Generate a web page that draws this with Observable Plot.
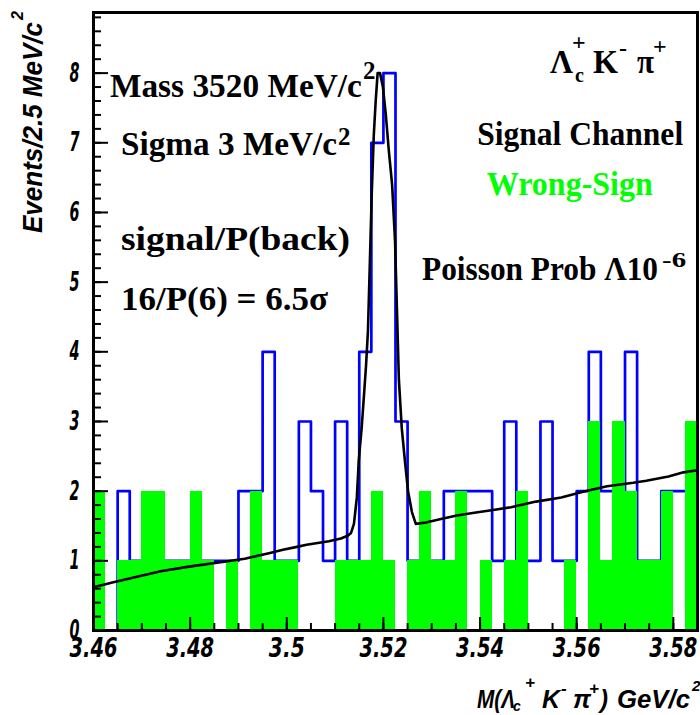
<!DOCTYPE html>
<html>
<head>
<meta charset="utf-8">
<script src="https://cdn.jsdelivr.net/npm/d3@7"></script>
<script src="https://cdn.jsdelivr.net/npm/@observablehq/plot@0.6"></script>
<style>
  body { margin: 0; background: #fff; }
  #chart svg { display: block; }
</style>
</head>
<body>
<div id="chart"></div>
<script>
// Histogram binning: 2.5 MeV/c^2 bins starting at 3.46 GeV/c^2
const binStart = 3.46;
const binWidth = 0.0025;

// Signal channel (Lambda_c+ K- pi+), events per bin
const signalCounts = [0, 0, 2, 1, 1, 1, 1, 1, 1, 1, 1, 1, 2, 2, 4, 1, 1, 3, 2, 1,
                      3, 1, 4, 7, 8, 3, 1, 1, 1, 2, 2, 2, 2, 1, 3, 1, 1, 3, 1, 1,
                      2, 4, 2, 2, 4, 1, 1, 2, 2, 2];

// Wrong-sign combinations, events per bin
const wrongSignCounts = [2, 0, 1, 1, 2, 2, 1, 1, 2, 1, 0, 1, 0, 2, 1, 1, 1, 0, 0, 0,
                         1, 1, 1, 2, 1, 0, 1, 2, 1, 1, 2, 0, 1, 0, 1, 2, 0, 0, 0, 1,
                         0, 3, 1, 3, 2, 1, 1, 2, 0, 3];

// Fitted curve (Gaussian peak on a rising background)
const fitMass = [3.4600, 3.4639, 3.4739, 3.4801, 3.4863, 3.4913, 3.4963, 3.4992, 3.5021, 3.5041,
                 3.5087, 3.5112, 3.5126, 3.5133, 3.5139, 3.5145, 3.5149, 3.5155, 3.5160, 3.5164,
                 3.5168, 3.5172, 3.5176, 3.5180, 3.5184, 3.5188, 3.5193, 3.5199, 3.5205, 3.5211,
                 3.5218, 3.5224, 3.5228, 3.5232, 3.5238, 3.5245, 3.5251, 3.5259, 3.5267, 3.5288,
                 3.5319, 3.5352, 3.5388, 3.5427, 3.5464, 3.5516, 3.5568, 3.5613, 3.5663, 3.5717,
                 3.5744, 3.5790, 3.5821, 3.5850];
const fitEvents = [0.62, 0.69, 0.85, 0.92, 0.98, 1.03, 1.11, 1.16, 1.20, 1.23,
                   1.28, 1.32, 1.36, 1.40, 1.53, 1.91, 2.44, 2.91, 3.40, 3.80,
                   4.3, 5.3, 6.3, 7.1, 7.6, 8.0, 8.0, 7.8, 7.4, 6.9,
                   6.4, 5.6, 4.6, 3.6, 2.9, 2.4, 2.0, 1.7, 1.53, 1.55,
                   1.60, 1.65, 1.69, 1.73, 1.77, 1.85, 1.91, 1.99, 2.07, 2.12,
                   2.15, 2.21, 2.27, 2.30];

// Axis ticks
const xTickValues = [3.46, 3.48, 3.5, 3.52, 3.54, 3.56, 3.58];
const xTickLabels = ["3.46", "3.48", "3.5", "3.52", "3.54", "3.56", "3.58"];
const yTickValues = [0, 1, 2, 3, 4, 5, 6, 7, 8];
const yTickLabels = ["0", "1", "2", "3", "4", "5", "6", "7", "8"];

// Tables for the marks
const wrongSignBins = wrongSignCounts.map((n, i) => ({
  x1: binStart + i * binWidth, x2: binStart + (i + 1) * binWidth, n
}));
const signalSteps = signalCounts.map((n, i) => ({x: binStart + i * binWidth, n}))
  .concat([{x: binStart + signalCounts.length * binWidth, n: signalCounts[signalCounts.length - 1]}]);
const fitCurve = fitMass.map((m, i) => ({m, v: fitEvents[i]}));

const xMinor = d3.range(0, 26).map(i => 3.46 + i * 0.005);
const yMinor = d3.range(0, 45).map(i => i * 0.2);

const heavy = "'DejaVu Sans', sans-serif";
const serif = "'Liberation Serif', 'Times New Roman', serif";
const sans = "'Liberation Sans', Arial, sans-serif";

const tickStyle = {fontFamily: heavy, fontWeight: "bold", fontStyle: "italic", fill: "black"};

const plot = Plot.plot({
  width: 700,
  height: 715,
  marginLeft: 93,
  marginRight: 3,
  marginTop: 12,
  marginBottom: 85,
  x: {domain: [3.46, 3.585]},
  y: {domain: [0, 8.87]},
  style: {background: "white"},
  marks: [
    Plot.lineY(signalSteps, {x: "x", y: "n", curve: "step-after", stroke: "#0000ff", strokeWidth: 2.7}),
    Plot.rectY(wrongSignBins, {x1: "x1", x2: "x2", y: "n", fill: "#00ff00", inset: 0, shapeRendering: "crispEdges"}),
    Plot.line(fitCurve, {x: "m", y: "v", stroke: "black", strokeWidth: 2.6}),
    Plot.axisX({ticks: xMinor, tickSize: -7, text: null, label: null, strokeWidth: 2}),
    Plot.axisX({ticks: xTickValues, tickSize: -13, text: null, label: null, strokeWidth: 2}),
    Plot.axisX({ticks: xTickValues, tickSize: 0, tickPadding: 7, label: null, fontSize: 27,
                tickFormat: d => xTickLabels[xTickValues.indexOf(d)], ...tickStyle}),
    Plot.axisY({ticks: yMinor, tickSize: -8, text: null, label: null, strokeWidth: 2}),
    Plot.axisY({ticks: yTickValues, tickSize: -15, text: null, label: null, strokeWidth: 2}),
    Plot.axisY({ticks: yTickValues, tickSize: 0, tickPadding: 14, label: null, fontSize: 27,
                tickFormat: d => yTickLabels[yTickValues.indexOf(d)], ...tickStyle}),
    Plot.frame({stroke: "black", strokeWidth: 3})
  ]
});

document.getElementById("chart").append(plot);

const svg = d3.select(plot);
const X = plot.scale("x");
const Y = plot.scale("y");

// Condense the heavy tick labels
svg.selectAll('g[aria-label="y-axis tick label"] text')
  .attr("textLength", 10).attr("lengthAdjust", "spacingAndGlyphs");
svg.selectAll('g[aria-label="x-axis tick label"] text')
  .each(function () {
    const s = this.textContent;
    d3.select(this).attr("textLength", s.length === 3 ? 36 : 48).attr("lengthAdjust", "spacingAndGlyphs");
  });

// Text helpers: each part is [text, dx, dy, fontSize, textLength]
function put(parent, px, py, str, o) {
  const t = parent.append("text")
    .attr("x", px).attr("y", py).text(str)
    .attr("text-anchor", "start")
    .attr("font-family", o.family || serif)
    .attr("font-size", o.size)
    .attr("font-weight", o.weight || "bold")
    .attr("font-style", o.style || "normal")
    .attr("fill", o.fill || "black");
  if (o.width) t.attr("textLength", o.width).attr("lengthAdjust", "spacingAndGlyphs");
  return t;
}
function rich(parent, px, py, parts, o = {}) {
  parts.forEach(([s, dx, dy, size, width]) => put(parent, px + dx, py + dy, s, {...o, size, width}));
}

const ann = svg.append("g").attr("aria-label", "annotations").attr("text-anchor", "start");

// Fit results, upper left
rich(ann, X.apply(3.4635), Y.apply(7.65), [["Mass 3520 MeV/c", 0, 0, 33, 252], ["2", 253, -18, 25]]);
rich(ann, X.apply(3.4658), Y.apply(6.82), [["Sigma 3 MeV/c", 0, 0, 33, 216], ["2", 217, -10, 25]]);
rich(ann, X.apply(3.4658), Y.apply(5.45), [["signal/P(back)", 0, 0, 33, 229]]);
rich(ann, X.apply(3.4658), Y.apply(4.59), [["16/P(6) = 6.5σ", 0, 0, 33, 207]]);

// Channel and legend text, upper right
rich(ann, X.apply(3.5546), Y.apply(7.99), [
  ["Λ", 0, 0, 33, 23], ["c", 25, 9, 20], ["+", 22, -23, 24],
  ["K", 43, 0, 33, 25], ["-", 69, -17, 24],
  ["π", 87, 0, 33, 17], ["+", 103, -19, 24]
]);
rich(ann, X.apply(3.5395), Y.apply(6.96), [["Signal Channel", 0, 0, 33, 206]]);
rich(ann, X.apply(3.5415), Y.apply(6.24), [["Wrong-Sign", 0, 0, 33, 166]], {fill: "#00ff00"});
rich(ann, X.apply(3.5281), Y.apply(5.02), [["Poisson Prob Λ10", 0, 0, 33, 236], ["-6", 240, -13, 22, 24]]);

// Axis titles
const axisFont = {family: sans, style: "italic"};
const yTitle = svg.append("g").attr("text-anchor", "start")
  .attr("transform", `translate(42,${Y.apply(8.87) + 221}) rotate(-90)`);
rich(yTitle, 0, 0, [["Events/2.5 MeV/c", 0, 0, 27, 211], ["2", 213, -19, 16]], axisFont);

rich(ann, X.apply(3.4600) + 384, Y.apply(0) + 78, [
  ["M(Λ", 0, 0, 26, 38], ["c", 36, 3, 14], ["+", 48, -20, 17],
  ["K", 65, 0, 26, 18], ["-", 84, -14, 17],
  ["π", 96, 0, 26, 18], ["+", 112, -14, 17],
  [")", 123, 0, 26, 8],
  ["GeV/c", 140, 0, 26, 73], ["2", 215, -17, 15]
], axisFont);
</script>
</body>
</html>
